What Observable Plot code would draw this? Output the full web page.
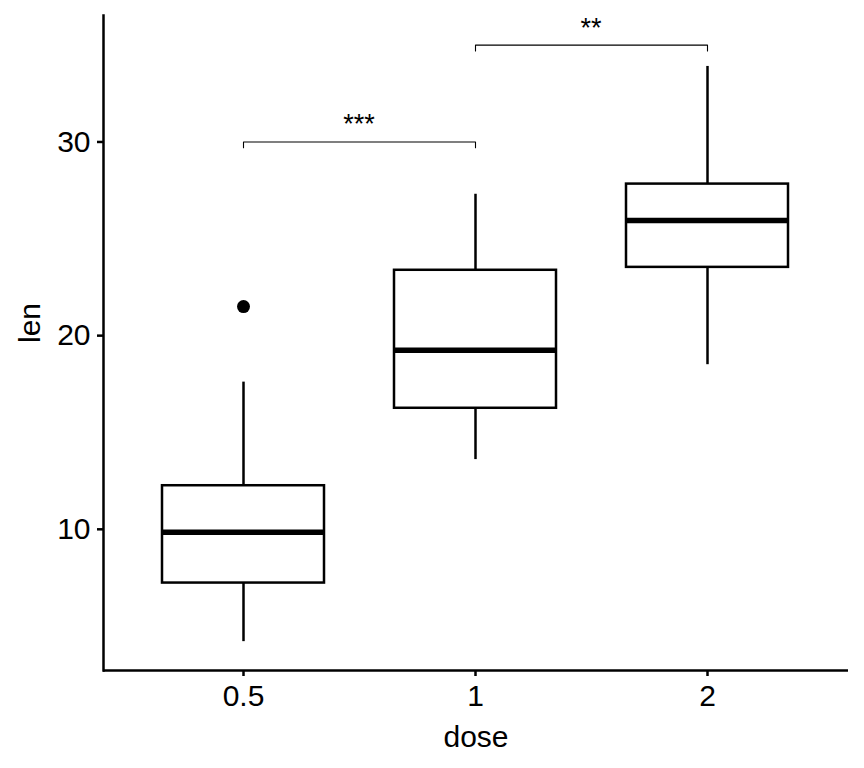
<!DOCTYPE html>
<html>
<head>
<meta charset="utf-8">
<script src="https://cdn.jsdelivr.net/npm/d3@7"></script>
<script src="https://cdn.jsdelivr.net/npm/@observablehq/plot@0.6"></script>
<style>
  html, body { margin: 0; padding: 0; background: #fff; }
  #chart svg { display: block; }
</style>
</head>
<body>
<div id="chart"></div>
<script>
// Categories and box summary statistics (len by dose)
const doses = ["0.5", "1", "2"];
const whiskerLow = [4.2, 13.6, 18.5];
const q1 = [7.225, 16.25, 23.525];
const medians = [9.85, 19.25, 25.95];
const q3 = [12.25, 23.375, 27.825];
const whiskerHigh = [17.6, 27.3, 33.9];

// Outliers
const outlierDose = ["0.5"];
const outlierLen = [21.5];

// Significance brackets
const bracketFrom = ["0.5", "1"];
const bracketTo = ["1", "2"];
const bracketY = [30, 35];
const bracketTip = 0.3;
const bracketLabels = ["***", "**"];

// Axis
const yTicks = [10, 20, 30];
const yDomain = [2.71, 36.53];

const boxes = doses.map((d, i) => ({
  dose: d, lo: whiskerLow[i], q1: q1[i], med: medians[i], q3: q3[i], hi: whiskerHigh[i]
}));
const outliers = outlierDose.map((d, i) => ({dose: d, len: outlierLen[i]}));
const bracketPts = [];
bracketFrom.forEach((a, i) => {
  const b = bracketTo[i], y = bracketY[i];
  bracketPts.push({id: i, dose: a, len: y - bracketTip});
  bracketPts.push({id: i, dose: a, len: y});
  bracketPts.push({id: i, dose: b, len: y});
  bracketPts.push({id: i, dose: b, len: y - bracketTip});
});
// label position: midpoint between the two dose bands (computed via scale after)
const bracketText = bracketFrom.map((a, i) => ({from: a, to: bracketTo[i], len: bracketY[i], label: bracketLabels[i]}));

const font = "Liberation Sans, Arial, Helvetica, sans-serif";

const plot = Plot.plot({
  width: 864,
  height: 768,
  marginLeft: 103,
  marginRight: 16,
  marginTop: 15,
  marginBottom: 98,
  style: {fontFamily: font, fontSize: "30px", color: "#000", background: "#fff"},
  x: {type: "band", domain: doses, paddingInner: 0.3, paddingOuter: 0.252, label: null, axis: null},
  y: {domain: yDomain, label: null, axis: null},
  marks: [
    // whiskers
    Plot.ruleX(boxes, {x: "dose", y1: "lo", y2: "q1", stroke: "#000", strokeWidth: 2.5}),
    Plot.ruleX(boxes, {x: "dose", y1: "q3", y2: "hi", stroke: "#000", strokeWidth: 2.5}),
    // boxes
    Plot.barY(boxes, {x: "dose", y1: "q1", y2: "q3", fill: "#fff", stroke: "#000", strokeWidth: 2.5}),
    // medians
    Plot.tickY(boxes, {x: "dose", y: "med", stroke: "#000", strokeWidth: 5.5}),
    // outliers
    Plot.dot(outliers, {x: "dose", y: "len", r: 6.5, fill: "#000", stroke: null}),
    // brackets
    Plot.line(bracketPts, {x: "dose", y: "len", z: "id", stroke: "#000", strokeWidth: 1.1}),
    // axis lines
    Plot.ruleY([yDomain[0]], {stroke: "#000", strokeWidth: 2.5}),
    Plot.frame({anchor: "left", stroke: "#000", strokeWidth: 2.5}),
    // axes
    Plot.axisY({ticks: yTicks, tickSize: 6, tickPadding: 7, tickFormat: d => String(d), stroke: "#000", strokeWidth: 2.5, fill: "#000", fontSize: 30, label: null}),
    Plot.axisX({tickSize: 6, tickPadding: 8, stroke: "#000", strokeWidth: 2.5, fill: "#000", fontSize: 30, label: null}),
    // axis titles
    Plot.text(["dose"], {frameAnchor: "bottom", text: d => d, lineAnchor: "bottom", dy: 76, fontSize: 30, fill: "#000"}),
    Plot.text(["len"], {frameAnchor: "left", text: d => d, rotate: -90, lineAnchor: "bottom", dx: -64, fontSize: 30, fill: "#000"})
  ]
});

document.getElementById("chart").appendChild(plot);

// Bracket labels: centered between the two band centers, placed via the plot's own scales
const xs = plot.scale("x");
const ys = plot.scale("y");
const svg = d3.select(plot.tagName === "svg" ? plot : plot.querySelector("svg"));
const bw = xs.bandwidth || 0;
svg.append("g")
  .attr("font-family", font)
  .attr("font-size", 27)
  .attr("fill", "#000")
  .attr("text-anchor", "middle")
  .selectAll("text")
  .data(bracketText)
  .join("text")
  .attr("x", d => (xs.apply(d.from) + xs.apply(d.to)) / 2 + bw / 2)
  .attr("y", d => ys.apply(d.len) - 8)
  .text(d => d.label);
</script>
</body>
</html>
